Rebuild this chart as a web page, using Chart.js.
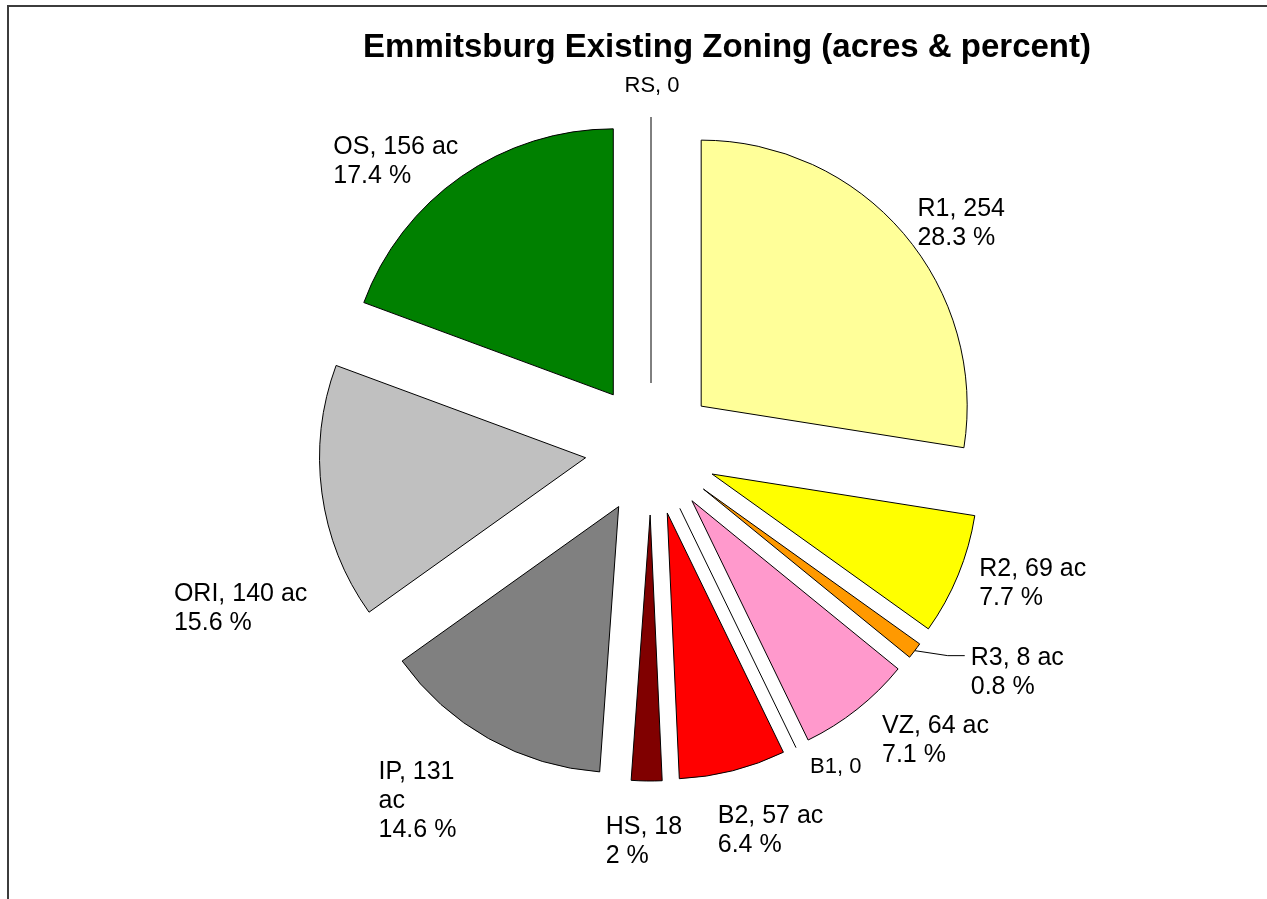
<!DOCTYPE html>
<html>
<head>
<meta charset="utf-8">
<title>Emmitsburg Existing Zoning</title>
<script src="https://cdn.jsdelivr.net/npm/chart.js@4.4.1/dist/chart.umd.min.js"></script>
<style>
  html, body { margin: 0; padding: 0; background: #fff; overflow: hidden; }
  #wrap { position: relative; width: 1267px; height: 899px; }
</style>
</head>
<body>
<div id="wrap"><canvas id="zoning" width="1267" height="899"></canvas></div>
<script>
const chartTitle = "Emmitsburg Existing Zoning (acres & percent)";
const zones = ["R1", "R2", "R3", "VZ", "B1", "B2", "HS", "IP", "ORI", "OS", "RS"];
// slice sizes as they are drawn (degrees of the circle)
const sliceDegrees = [99.0, 26.6, 3.6, 24.9, 0, 23.3, 6.7, 50.4, 55.8, 69.7, 0];
// data label text as typed on the chart
const labelLines = [
  ["R1, 254", "28.3 %"],
  ["R2, 69 ac", "7.7 %"],
  ["R3, 8 ac", "0.8 %"],
  ["VZ, 64 ac", "7.1 %"],
  ["B1, 0"],
  ["B2, 57 ac", "6.4 %"],
  ["HS, 18", "2 %"],
  ["IP, 131", "ac", "14.6 %"],
  ["ORI, 140 ac", "15.6 %"],
  ["OS, 156 ac", "17.4 %"],
  ["RS, 0"],
];
const zoneColors = [
  "#FFFF99", "#FFFF00", "#FF9900", "#FF99CC", "#FFFFFF", "#FF0000",
  "#800000", "#808080", "#C0C0C0", "#008000", "#FFFFFF",
];

// label placement relative to the outer edge of each slice
const labelNudge = [
  [14, -17], [21, 1], [56, 14], [25, 24], [14, 25], [-15, 52],
  [-41, 53], [-110, 40], [-148, 108], [-128, -23], [1, -25],
];
const labelAlign = ["left", "left", "left", "left", "left", "left", "left", "left", "left", "left", "center"];
const labelSize = [25, 25, 25, 25, 22, 25, 25, 25, 25, 25, 22];
const labelLeader = [false, false, true, false, false, false, false, false, false, false, false];

const EXPLODE = 66;
const FONT = '"Liberation Sans", Arial, sans-serif';

const explodePlugin = {
  id: "explode",
  afterDatasetsUpdate(chart) {
    chart.getDatasetMeta(0).data.forEach((arc) => {
      const mid = (arc.startAngle + arc.endAngle) / 2;
      arc.x += Math.cos(mid) * EXPLODE;
      arc.y += Math.sin(mid) * EXPLODE;
    });
  },
  afterDatasetsDraw(chart) {
    // zero slices are skipped by Chart.js, Excel still draws their edge
    const ctx = chart.ctx;
    ctx.save();
    ctx.strokeStyle = "#000";
    ctx.lineWidth = 1;
    chart.getDatasetMeta(0).data.forEach((arc) => {
      if (arc.endAngle - arc.startAngle > 0) return;
      const a = arc.startAngle;
      ctx.beginPath();
      ctx.moveTo(arc.x, arc.y);
      ctx.lineTo(arc.x + Math.cos(a) * arc.outerRadius, arc.y + Math.sin(a) * arc.outerRadius);
      ctx.stroke();
    });
    ctx.restore();
  },
};

const labelPlugin = {
  id: "zoneLabels",
  afterDraw(chart) {
    const ctx = chart.ctx;
    ctx.save();

    // frame
    ctx.fillStyle = "#3c3c3c";
    ctx.fillRect(7, 5, chart.width, 2);
    ctx.fillRect(7, 5, 2, chart.height);

    // title
    ctx.fillStyle = "#000";
    ctx.font = "bold 33px " + FONT;
    ctx.textAlign = "center";
    ctx.textBaseline = "alphabetic";
    ctx.fillText(chartTitle, 727, 57);

    chart.getDatasetMeta(0).data.forEach((arc, i) => {
      const mid = (arc.startAngle + arc.endAngle) / 2;
      const px = arc.x + Math.cos(mid) * arc.outerRadius;
      const py = arc.y + Math.sin(mid) * arc.outerRadius;
      const tx = px + labelNudge[i][0];
      const ty = py + labelNudge[i][1];
      const size = labelSize[i];
      const lh = Math.round(size * 1.16);

      ctx.font = size + "px " + FONT;
      ctx.textAlign = labelAlign[i];
      ctx.fillStyle = "#000";
      labelLines[i].forEach((line, k) => ctx.fillText(line, tx, ty + k * lh));

      if (labelLeader[i]) {
        const ly = ty - 9;
        ctx.strokeStyle = "#000";
        ctx.lineWidth = 1;
        ctx.beginPath();
        ctx.moveTo(px, py);
        ctx.lineTo(tx - 23, ly);
        ctx.lineTo(tx - 6, ly);
        ctx.stroke();
      }
    });

    ctx.restore();
  },
};

new Chart(document.getElementById("zoning"), {
  type: "pie",
  data: {
    labels: zones,
    datasets: [
      {
        data: sliceDegrees,
        backgroundColor: zoneColors,
        borderColor: "#000",
        borderWidth: 1,
        radius: 266,
      },
    ],
  },
  options: {
    responsive: false,
    animation: false,
    events: [],
    layout: { padding: { left: 251, right: 216, top: 49, bottom: 50 } },
    plugins: {
      legend: { display: false },
      tooltip: { enabled: false },
      title: { display: false },
    },
  },
  plugins: [explodePlugin, labelPlugin],
});
</script>
</body>
</html>
